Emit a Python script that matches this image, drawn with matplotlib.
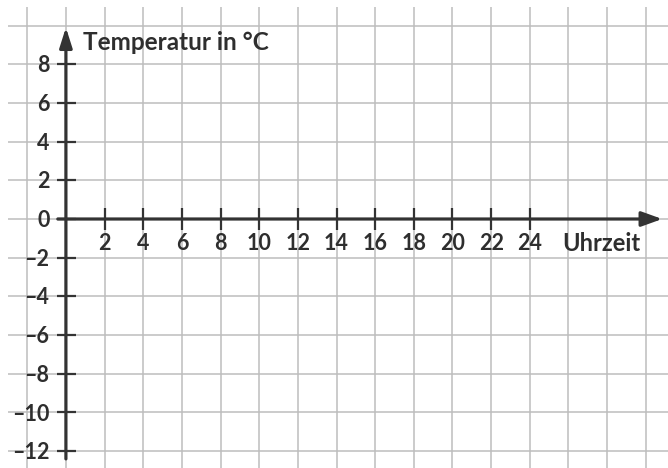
import matplotlib
matplotlib.use("Agg")
import matplotlib.pyplot as plt
import numpy as np

x_ticks = [2, 4, 6, 8, 10, 12, 14, 16, 18, 20, 22, 24]
y_ticks = [8, 6, 4, 2, 0, -2, -4, -6, -8, -10, -12]
grid_x = list(range(-2, 31, 2))
grid_y = list(range(-12, 11, 2))
x_label = "Uhrzeit"
y_label = "Temperatur in °C"

FONT = ["Lato", "DejaVu Sans"]
TXT = "#2e2e2e"
AX = "#333333"
GRID = "#bdbdbd"

fig = plt.figure(figsize=(6.68, 4.68), dpi=100)
ax = fig.add_axes([0, 0, 1, 1])
ax.set_xlim(-3.41, 31.15)
ax.set_ylim(-12.87, 11.32)
ax.axis("off")

ax.vlines(grid_x, -12.87, 10.96, color=GRID, lw=1.1, zorder=1)
ax.hlines(grid_y, -3.0, 31.15, color=GRID, lw=1.1, zorder=1)

# axes with arrows
ax.annotate("", xy=(30.85, 0), xytext=(-0.42, 0),
            arrowprops=dict(arrowstyle="-|>,head_length=1.25,head_width=0.45",
                            lw=2.3, color=AX, shrinkA=0, shrinkB=0), zorder=3)
ax.annotate("", xy=(0, 9.9), xytext=(0, -12.4),
            arrowprops=dict(arrowstyle="-|>,head_length=1.2,head_width=0.38",
                            lw=2.3, color=AX, shrinkA=0, shrinkB=0), zorder=3)

# ticks
for xv in x_ticks:
    ax.plot([xv, xv], [0.57, -0.57], color=AX, lw=1.6, zorder=3, solid_capstyle="butt")
    ax.text(xv, -1.25, str(xv), ha="center", va="center", fontsize=15.5,
            fontweight="bold", color=TXT, family=FONT)
for yv in y_ticks:
    ax.plot([-0.47, 0.5], [yv, yv], color=AX, lw=1.6, zorder=3, solid_capstyle="butt")
    lbl = str(yv).replace("-", "\u2013")
    ax.text(-0.85, yv - 0.08, lbl, ha="right", va="center", fontsize=15.5,
            fontweight="bold", color=TXT, family=FONT)

ax.text(0.88, 9.1, y_label, ha="left", va="center", fontsize=17.5,
        fontweight="bold", color=TXT, family=FONT)
ax.text(25.7, -1.25, x_label, ha="left", va="center", fontsize=17,
        fontweight="bold", color=TXT, family=FONT)

fig.savefig("out.png", dpi=100)
